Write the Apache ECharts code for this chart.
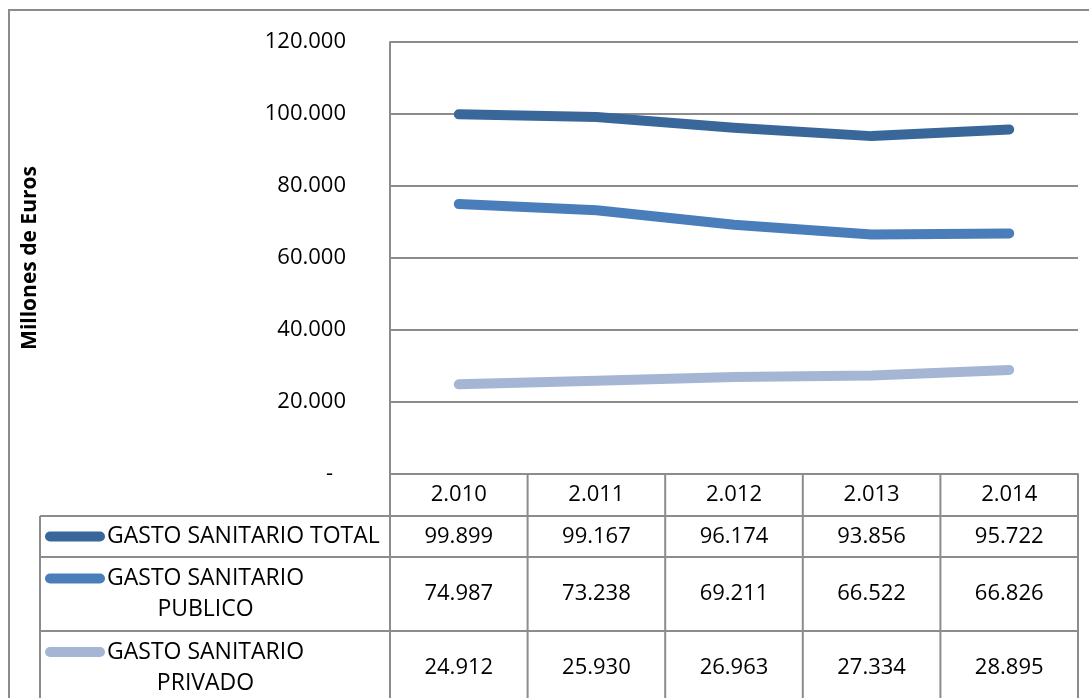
<!DOCTYPE html>
<html>
<head>
<meta charset="utf-8">
<title>Gasto sanitario</title>
<script src="https://cdn.jsdelivr.net/npm/echarts@6/dist/echarts.min.js"></script>
<style>
  html, body { margin: 0; padding: 0; background: #fff; }
  #main { width: 1089px; height: 698px; }
</style>
</head>
<body>
<div id="main"></div>
<script>
'use strict';

// data (millones de euros)
var years = ['2.010', '2.011', '2.012', '2.013', '2.014'];
var seriesNames = ['GASTO SANITARIO TOTAL', 'GASTO SANITARIO PUBLICO', 'GASTO SANITARIO PRIVADO'];
// how the names wrap inside the table cell
var tableLabels = ['GASTO SANITARIO TOTAL', 'GASTO SANITARIO\nPUBLICO', 'GASTO SANITARIO\nPRIVADO'];
var gastoTotal = [99899, 99167, 96174, 93856, 95722];
var gastoPublico = [74987, 73238, 69211, 66522, 66826];
var gastoPrivado = [24912, 25930, 26963, 27334, 28895];
var yTicks = { min: 0, max: 120000, interval: 20000 };

var colors = ['#3a679a', '#4a7ebb', '#a5b6d5'];
var lineGray = '#8c8c8c';
var fontFam = '"Open Sans", sans-serif';
var fontSize = 22;
var legendFontSize = 23;

function fmt(v) {
    return String(v).replace(/\B(?=(\d{3})+(?!\d))/g, '.');
}

var chart = echarts.init(document.getElementById('main'));

var allSeries = [gastoTotal, gastoPublico, gastoPrivado];

var option = {
    backgroundColor: '#ffffff',
    animation: false,
    grid: { left: 390, right: 11, top: 42, bottom: 224 },
    xAxis: {
        type: 'category',
        data: years,
        boundaryGap: true,
        axisLine: { show: true, lineStyle: { color: lineGray, width: 2 } },
        axisTick: { show: false },
        axisLabel: {
            margin: 21,
            verticalAlign: 'middle',
            color: '#000',
            fontFamily: fontFam,
            fontSize: fontSize
        }
    },
    yAxis: {
        type: 'value',
        min: yTicks.min,
        max: yTicks.max,
        interval: yTicks.interval,
        name: 'Millones de Euros',
        nameLocation: 'middle',
        nameRotate: 90,
        nameGap: 349,
        nameTextStyle: { color: '#000', fontFamily: fontFam, fontSize: 21, fontWeight: 'bold' },
        axisLine: { show: true, lineStyle: { color: lineGray, width: 2 } },
        axisTick: { show: false },
        splitLine: { show: true, lineStyle: { color: lineGray, width: 2 } },
        axisLabel: {
            margin: 44,
            color: '#000',
            fontFamily: fontFam,
            fontSize: fontSize,
            formatter: function (v) { return v === 0 ? '{d|-}' : fmt(v); },
            rich: { d: { fontFamily: fontFam, fontSize: fontSize, color: '#000', padding: [0, 13, 0, 0] } }
        }
    },
    series: allSeries.map(function (vals, i) {
        return {
            name: seriesNames[i],
            type: 'line',
            data: vals,
            symbol: 'none',
            smooth: false,
            lineStyle: { color: colors[i], width: 10, cap: 'round', join: 'round' }
        };
    })
};

chart.setOption(option);

// data table below the plot
function buildTable() {
    var c0 = chart.convertToPixel({ xAxisIndex: 0 }, 0);
    var c1 = chart.convertToPixel({ xAxisIndex: 0 }, 1);
    var colW = c1 - c0;
    var left = c0 - colW / 2;
    var right = left + colW * years.length;
    var top = chart.convertToPixel({ yAxisIndex: 0 }, 0);
    var rowTops = [516, 557, 631, 704];
    var legLeft = 40;

    var legFont = legendFontSize + 'px ' + fontFam;
    var ctx = document.createElement('canvas').getContext('2d');
    ctx.font = legFont;

    var els = [];
    var ls = { stroke: lineGray, lineWidth: 2 };

    // outer chart border
    els.push({ type: 'rect', shape: { x: 9, y: 10, width: 1100, height: 720 }, style: { fill: null, stroke: lineGray, lineWidth: 2 }, z: 1 });

    // vertical lines
    els.push({ type: 'line', shape: { x1: left, y1: top, x2: left, y2: 710 }, style: ls, z: 5 });
    els.push({ type: 'line', shape: { x1: legLeft, y1: rowTops[0], x2: legLeft, y2: 710 }, style: ls, z: 5 });
    for (var k = 1; k <= years.length; k++) {
        var x = left + colW * k;
        els.push({ type: 'line', shape: { x1: x, y1: top, x2: x, y2: 710 }, style: ls, z: 5 });
    }
    // horizontal lines
    for (var r = 0; r < 3; r++) {
        els.push({ type: 'line', shape: { x1: legLeft, y1: rowTops[r], x2: right, y2: rowTops[r] }, style: ls, z: 5 });
    }

    for (var s = 0; s < allSeries.length; s++) {
        var yMid = (rowTops[s] + rowTops[s + 1]) / 2;
        var lines = tableLabels[s].split('\n');
        var lineH = 31;
        var firstY = yMid - (lines.length - 1) * lineH / 2;
        // legend key
        els.push({
            type: 'line',
            shape: { x1: 50, y1: firstY, x2: 100, y2: firstY },
            style: { stroke: colors[s], lineWidth: 10, lineCap: 'round' },
            z: 6
        });
        var maxW = 0;
        lines.forEach(function (t) { maxW = Math.max(maxW, ctx.measureText(t).width); });
        var tx = 107 + maxW / 2;
        lines.forEach(function (t, j) {
            els.push({
                type: 'text',
                x: tx, y: firstY + j * lineH,
                style: { text: t, fill: '#000', font: legFont, align: 'center', verticalAlign: 'middle' },
                z: 6
            });
        });
        // values
        allSeries[s].forEach(function (v, i) {
            els.push({
                type: 'text',
                x: chart.convertToPixel({ xAxisIndex: 0 }, i),
                y: yMid,
                style: { text: fmt(v), fill: '#000', font: fontSize + 'px ' + fontFam, align: 'center', verticalAlign: 'middle' },
                z: 6
            });
        });
    }
    chart.setOption({ graphic: { elements: els } });
}

buildTable();
</script>
</body>
</html>
